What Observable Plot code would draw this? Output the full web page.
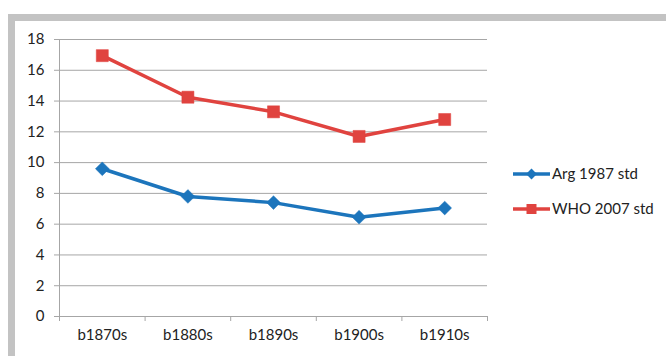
<!DOCTYPE html>
<html><head><meta charset="utf-8">
<script src="https://cdn.jsdelivr.net/npm/d3@7"></script>
<script src="https://cdn.jsdelivr.net/npm/@observablehq/plot@0.6"></script>
<style>
body{margin:0;background:#fff;width:666px;height:356px;overflow:hidden;position:relative;font-family:Lato,"Open Sans",sans-serif;}
#frame{position:absolute;left:8px;top:14px;width:700px;height:400px;border-left:7px solid #c3c3c3;border-top:7px solid #c3c3c3;background:#fff;}
#chart{position:absolute;left:0;top:0;}
#legend{position:absolute;left:0;top:0;}
</style></head>
<body>
<div id="frame"></div>
<div id="chart"></div>
<svg id="legend" width="666" height="356"></svg>
<script>
const categories = ["b1870s","b1880s","b1890s","b1900s","b1910s"];
const argValues = [9.6, 7.8, 7.4, 6.45, 7.05];
const whoValues = [16.95, 14.25, 13.3, 11.7, 12.8];
const seriesNames = ["Arg 1987 std","WHO 2007 std"];
const yTicks = [0,2,4,6,8,10,12,14,16,18];

const blue = "#1c75bc", red = "#e0433f";
const arg = categories.map((c,i)=>({i:i+0.5, v:argValues[i]}));
const who = categories.map((c,i)=>({i:i+0.5, v:whoValues[i]}));
const bounds = d3.range(categories.length+1);

const chart = Plot.plot({
  width:666, height:356,
  marginLeft:59, marginRight:179, marginTop:39, marginBottom:40,
  style:{background:"transparent", fontFamily:"Lato, 'Open Sans', sans-serif", fontSize:"15px", color:"#222"},
  x:{domain:[0,categories.length]},
  y:{domain:[0,18]},
  marks:[
    Plot.gridY(yTicks,{stroke:"#a6a6a6", strokeOpacity:1, strokeWidth:1}),
    Plot.ruleX([0],{stroke:"#a6a6a6"}),
    Plot.ruleY([0],{stroke:"#a6a6a6"}),
    Plot.axisY({ticks:yTicks, tickSize:5, tickPadding:10, stroke:"#a6a6a6", label:null, fontSize:15, fill:"#222"}),
    Plot.axisX({ticks:bounds, tickSize:5, tickFormat:()=>"", stroke:"#a6a6a6", label:null}),
    Plot.axisX({ticks:categories.map((c,i)=>i+0.5), tickSize:0, tickPadding:13, tickFormat:d=>categories[Math.floor(d)], label:null, fontSize:15, fill:"#222"}),
    Plot.line(arg,{x:"i", y:"v", stroke:blue, strokeWidth:3.5}),
    Plot.line(who,{x:"i", y:"v", stroke:red, strokeWidth:3.5}),
    Plot.dot(arg,{x:"i", y:"v", symbol:"diamond2", r:6.2, fill:blue, stroke:blue, strokeWidth:0.5}),
    Plot.dot(who,{x:"i", y:"v", symbol:"square", r:6.8, fill:red, stroke:red, strokeWidth:0.5})
  ]
});
document.getElementById("chart").append(chart);

// legend
const lg = d3.select("#legend");
const items = [{name:seriesNames[0], color:blue, sym:d3.symbolDiamond2, size:75, y:174},
               {name:seriesNames[1], color:red, sym:d3.symbolSquare, size:100, y:209}];
items.forEach(it=>{
  lg.append("line").attr("x1",513).attr("x2",550).attr("y1",it.y).attr("y2",it.y).attr("stroke",it.color).attr("stroke-width",3.5);
  lg.append("path").attr("d",d3.symbol(it.sym,it.size)()).attr("transform",`translate(531.5,${it.y})`).attr("fill",it.color);
  lg.append("text").attr("x",552).attr("y",it.y).attr("dy","0.35em").attr("font-size",15).attr("fill","#222").attr("font-family","Lato, 'Open Sans', sans-serif").text(it.name);
});
</script>
</body></html>
